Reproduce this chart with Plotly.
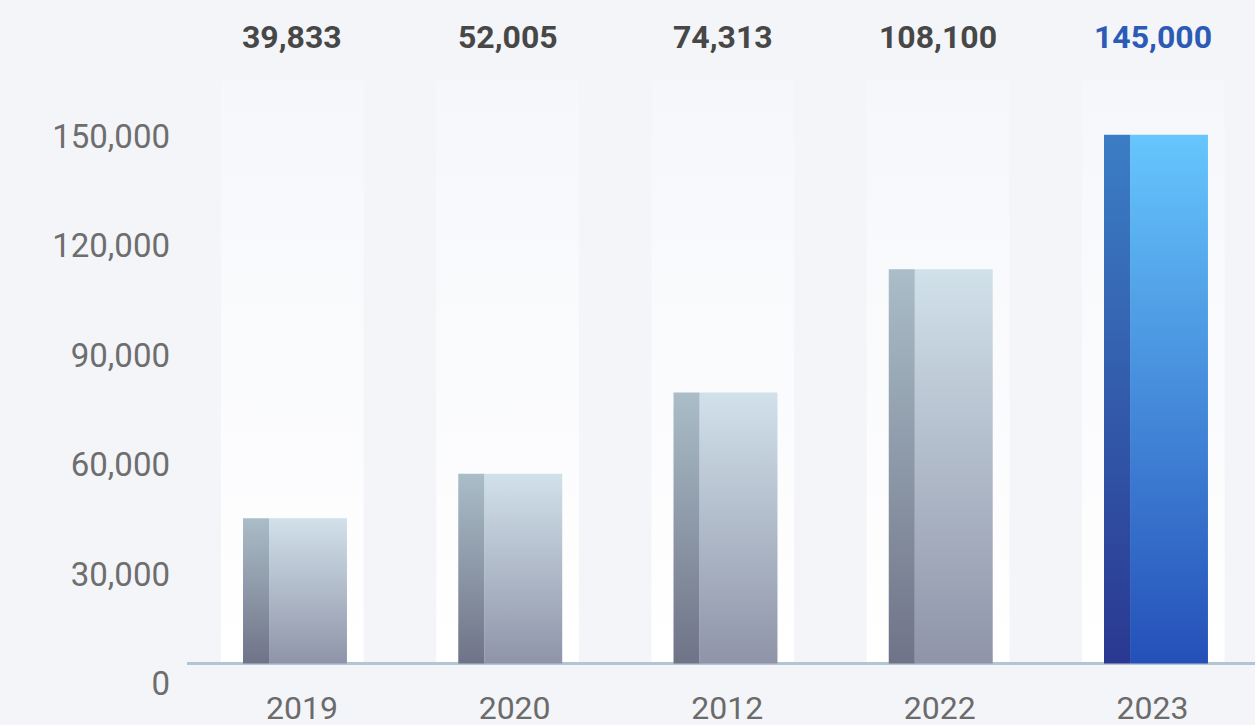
import plotly.graph_objects as go

# Yearly totals
years = ["2019", "2020", "2012", "2022", "2023"]
values = [39833, 52005, 74313, 108100, 145000]
value_labels = ["39,833", "52,005", "74,313", "108,100", "145,000"]
y_ticks = [0, 30000, 60000, 90000, 120000, 150000]
y_tick_labels = ["0", "30,000", "60,000", "90,000", "120,000", "150,000"]

BG = "#f4f5f9"
FONT = "Roboto"
Y_TOP = 160000

BAR_W = 0.483
STRIP_W = 0.121
COL_W = 0.663
COL_SHIFT = -0.0125

# gradient colours (bottom, top) for the face and the side strip of each bar
grey_face = ("#8f94a8", "#d1e1ea")
grey_strip = ("#6f7387", "#aabdc8")
blue_face = ("#2450b8", "#66c6fd")
blue_strip = ("#2a3892", "#3b7ec5")


def rect(x0, x1, y0, y1):
    return [x0, x1, x1, x0, x0], [y0, y0, y1, y1, y0]


def grad_rect(x0, x1, y0, y1, c_bottom, c_top, name):
    xs, ys = rect(x0, x1, y0, y1)
    return go.Scatter(
        x=xs, y=ys, mode="lines", fill="toself",
        line=dict(width=0, color=c_top),
        fillgradient=dict(type="vertical", colorscale=[[0, c_bottom], [1, c_top]]),
        hoverinfo="skip", showlegend=False, name=name,
    )


fig = go.Figure()

# soft white column behind every bar
for i, yr in enumerate(years):
    c = i + COL_SHIFT
    fig.add_trace(grad_rect(c - COL_W / 2, c + COL_W / 2, 0, Y_TOP,
                            "#ffffff", "#f6f7fb", f"col {yr}"))

# baseline
fig.add_trace(go.Scatter(
    x=[-0.6, len(years)], y=[0, 0], mode="lines",
    line=dict(color="#b2c5d2", width=3), hoverinfo="skip", showlegend=False,
))

# bars: darker strip on the left, lighter face on the right
for i, (yr, v) in enumerate(zip(years, values)):
    last = i == len(years) - 1
    face = blue_face if last else grey_face
    strip = blue_strip if last else grey_strip
    x0 = i - BAR_W / 2
    x1 = i + BAR_W / 2
    fig.add_trace(grad_rect(x0 + STRIP_W, x1, 0, v, face[0], face[1], yr))
    fig.add_trace(grad_rect(x0, x0 + STRIP_W, 0, v, strip[0], strip[1], yr))

# carrier trace for the category axis labels
fig.add_trace(go.Scatter(x=list(range(len(years))), y=[None] * len(years),
                         xaxis="x2", mode="markers", showlegend=False,
                         hoverinfo="skip"))

# value labels above the columns
for i, (lbl, v) in enumerate(zip(value_labels, values)):
    last = i == len(years) - 1
    fig.add_annotation(
        x=i + COL_SHIFT, y=1.0, xref="x", yref="paper", yanchor="middle",
        yshift=43,
        text=f"<b>{lbl}</b>", showarrow=False,
        font=dict(family=FONT, size=32, color="#2b5bb5" if last else "#474747"),
    )

fig.update_layout(
    width=1255, height=725,
    margin=dict(l=187, r=0, t=80, b=56, autoexpand=False),
    paper_bgcolor=BG, plot_bgcolor=BG,
    font=dict(family=FONT),
    xaxis=dict(range=[-0.5017, 4.46], showgrid=False, zeroline=False,
               showticklabels=False, showline=False, fixedrange=True,
               automargin=False),
    xaxis2=dict(range=[-0.541, 4.4825], overlaying="x", anchor="y", side="bottom",
                tickmode="array", tickvals=list(range(len(years))), ticktext=years,
                showgrid=False, zeroline=False, showline=False, ticks="",
                ticklabelstandoff=17, automargin=False,
                tickfont=dict(family=FONT, size=32, color="#6b6b6b")),
    yaxis=dict(range=[-1500, Y_TOP], showgrid=False, zeroline=False, showline=False,
               tickmode="array", tickvals=y_ticks, ticktext=y_tick_labels,
               ticks="", ticklabelshift=20, ticklabelstandoff=16, automargin=False,
               tickfont=dict(family=FONT, size=33, color="#6e6e6e")),
)

fig.write_html("out.html")
